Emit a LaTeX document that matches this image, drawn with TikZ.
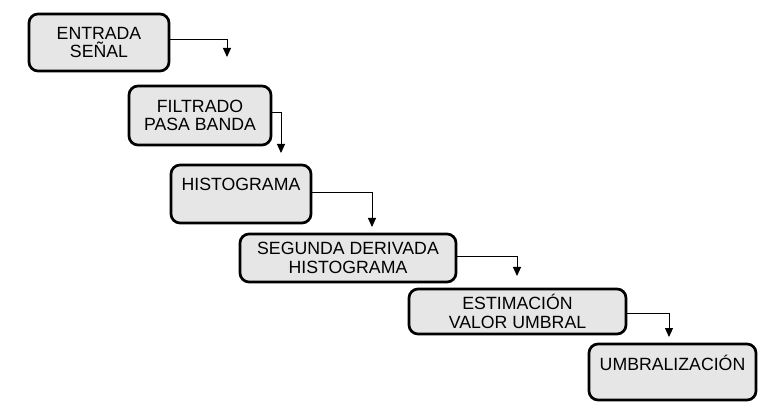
\documentclass[tikz,border=0pt]{standalone}
\usepackage{fontspec}
\setmainfont{Liberation Sans}
\usetikzlibrary{arrows.meta}
\definecolor{boxfill}{HTML}{E6E6E6}
\begin{document}
\begin{tikzpicture}[x=1pt,y=-1pt,
  stepbox/.style={draw=black, fill=boxfill, line width=2.7pt, rounded corners=9pt,
    align=center, inner sep=0pt, font=\fontsize{17.7}{18.8}\selectfont},
  conn/.style={line width=0.9pt, -{Triangle[length=9pt,width=8pt]}}]
\useasboundingbox (0,0) rectangle (773,419);
\node[stepbox, minimum width=140pt, minimum height=57pt] (b1) at (99,42.5) {ENTRADA\\SEÑAL};
\node[stepbox, minimum width=142pt, minimum height=59pt] (b2) at (200,115.5) {FILTRADO\\PASA BANDA};
\node[stepbox, minimum width=140pt, minimum height=58pt] (b3) at (241,194) {HISTOGRAMA\\~};
\node[stepbox, minimum width=216pt, minimum height=48pt] (b4) at (348,258) {SEGUNDA DERIVADA\\HISTOGRAMA};
\node[stepbox, minimum width=217pt, minimum height=45pt] (b5) at (517.5,311.5) {ESTIMACIÓN\\VALOR UMBRAL};
\node[stepbox, minimum width=167pt, minimum height=56pt] (b6) at (672.5,372) {UMBRALIZACIÓN\\~};
\coordinate (t1) at (227,57);
\coordinate (t2) at (281,153);
\coordinate (t3) at (372,227);
\coordinate (t4) at (517,276);
\coordinate (t5) at (669,337);
\draw[conn] ([yshift=3.5pt]b1.east) -| (t1);
\draw[conn] ([yshift=3.5pt]b2.east) -| (t2);
\draw[conn] ([yshift=2pt]b3.east) -| (t3);
\draw[conn] ([yshift=2pt]b4.east) -| (t4);
\draw[conn] ([yshift=-1.5pt]b5.east) -| (t5);
\end{tikzpicture}
\end{document}
